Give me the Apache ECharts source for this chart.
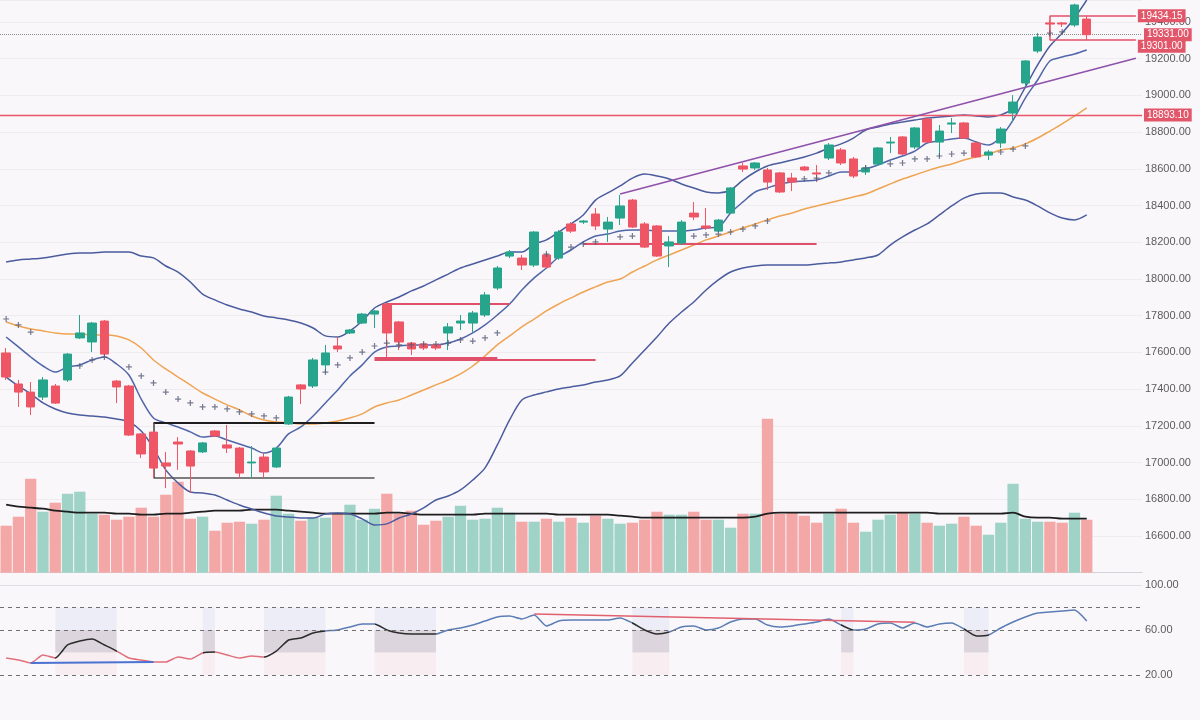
<!DOCTYPE html>
<html><head><meta charset="utf-8">
<script src="https://cdn.jsdelivr.net/npm/echarts@6/dist/echarts.min.js"></script>
<style>html,body{margin:0;padding:0;background:#faf7fa}#c{width:1200px;height:720px}</style>
</head><body><div id="c"></div>
<script>
// ---------- data ----------
const categories = Array.from({length: 93}, (_, i) => 'D' + (i + 1));

const open = [17597,17428,17384,17357,17417,17450,17679,17657,17771,17444,
17417,17156,17166,16998,17112,17063,17058,17172,17096,17079,
16998,17030,16976,17210,17423,17417,17532,17635,17706,17760,
17809,17864,17766,17651,17646,17641,17706,17760,17760,17804,
17951,18125,18114,18076,18131,18114,18300,18310,18354,18272,
18332,18430,18300,18289,18180,18196,18359,18289,18261,18359,
18616,18605,18594,18578,18550,18610,18578,18659,18703,18654,
18583,18626,18741,18774,18719,18872,18746,18844,18850,18741,
18675,18741,18904,19068,19242,19395,19395,19384,19416];
const close = [17466,17384,17303,17450,17324,17591,17706,17760,17591,17412,
17150,17047,16970,16981,17101,16981,17107,17145,17079,16943,
17003,16949,17079,17357,17401,17559,17597,17619,17722,17809,
17826,17706,17657,17619,17624,17624,17739,17771,17815,17913,
18060,18147,18076,18256,18065,18256,18261,18316,18289,18310,
18398,18283,18174,18125,18202,18310,18338,18278,18321,18496,
18599,18632,18528,18474,18528,18594,18572,18730,18632,18561,
18605,18714,18746,18681,18823,18746,18806,18850,18768,18665,
18692,18817,18964,19188,19318,19389,19389,19493,19331];
const low = [17450,17303,17259,17341,17319,17439,17673,17602,17580,17324,
17145,17025,16916,16861,16960,16834,17052,17139,17052,16916,
16916,16921,16970,17205,17319,17406,17488,17602,17700,17755,
17733,17575,17613,17586,17613,17613,17613,17722,17711,17793,
17940,18114,18049,18065,18060,18104,18251,18300,18267,18202,
18294,18278,18169,18120,18065,18185,18321,18267,18256,18354,
18583,18594,18485,18469,18479,18588,18528,18648,18621,18550,
18567,18616,18686,18675,18708,18741,18665,18795,18763,18659,
18648,18714,18855,19046,19231,19318,19373,19373,19301];
const high = [17624,17450,17439,17466,17428,17597,17804,17766,17777,17450,
17423,17161,17172,17058,17139,17068,17112,17177,17205,17085,
17090,17052,17085,17363,17428,17570,17641,17684,17728,17815,
17831,17869,17771,17657,17651,17646,17760,17804,17826,17929,
18071,18158,18131,18261,18142,18267,18310,18321,18387,18338,
18458,18436,18310,18294,18234,18321,18419,18387,18327,18501,
18632,18637,18605,18583,18578,18616,18621,18741,18714,18665,
18621,18719,18774,18779,18828,18877,18839,18877,18855,18746,
18703,18828,19002,19193,19340,19411,19400,19500,19434.15];

const volume = [235,280,470,305,350,395,405,295,290,265,
280,325,280,390,455,270,280,210,250,255,
245,265,385,295,260,275,275,295,340,265,
320,395,295,310,240,260,280,335,265,270,
325,300,255,255,270,255,275,250,285,270,
245,250,265,305,290,290,305,265,265,225,
295,295,770,295,300,285,250,295,320,250,
205,265,290,300,295,250,235,245,280,235,
190,250,445,270,255,255,250,300,265];
const volumeMA = [340,330,325,320,310,305,300,300,300,295,
295,290,290,295,295,300,305,310,310,310,
315,315,315,310,305,300,295,295,295,295,
295,300,300,295,290,290,290,290,290,295,
295,295,295,295,295,290,290,290,290,290,
285,280,275,275,275,275,275,275,275,275,
275,280,295,300,300,300,300,300,300,300,
300,300,300,300,300,300,295,295,295,295,
295,295,300,280,275,275,270,270,270];

const bbUpper = [18093,18104,18109,18115,18125,18136,18142,18142,18147,18147,
18147,18125,18115,18071,18038,17984,17918,17886,17858,17837,
17820,17799,17788,17777,17760,17733,17690,17684,17717,17771,
17842,17875,17902,17935,17962,17995,18027,18060,18082,18104,
18125,18147,18147,18191,18213,18256,18300,18349,18430,18469,
18507,18550,18572,18561,18545,18518,18496,18474,18469,18485,
18539,18583,18616,18632,18648,18665,18686,18714,18736,18768,
18812,18828,18845,18855,18866,18877,18883,18888,18894,18888,
18883,18894,18932,19046,19166,19269,19340,19422,19520];
const bbLower = [17466,17417,17374,17325,17292,17270,17259,17254,17248,17237,
17221,17172,17079,16960,16889,16840,16834,16823,16796,16769,
16747,16725,16709,16704,16698,16698,16720,16725,16720,16693,
16660,16666,16698,16720,16753,16796,16818,16851,16905,16971,
17096,17232,17341,17368,17385,17401,17412,17423,17439,17450,
17472,17543,17613,17684,17760,17820,17875,17940,17995,18038,
18060,18071,18076,18076,18076,18076,18082,18087,18093,18104,
18115,18131,18185,18229,18267,18300,18349,18398,18441,18463,
18469,18469,18447,18430,18398,18360,18332,18322,18349];
const bbMid = [17766,17744,17728,17717,17706,17701,17701,17695,17695,17690,
17668,17624,17559,17510,17466,17423,17379,17346,17314,17287,
17254,17232,17221,17216,17210,17210,17216,17227,17243,17265,
17303,17325,17341,17368,17395,17423,17450,17483,17526,17581,
17641,17690,17739,17782,17826,17864,17897,17929,17957,17984,
18000,18038,18071,18104,18131,18158,18185,18213,18234,18256,
18278,18300,18322,18343,18360,18381,18398,18414,18430,18447,
18463,18490,18518,18545,18567,18589,18610,18627,18648,18665,
18681,18703,18714,18736,18768,18806,18845,18888,18932];
const fastLine = [17684,17630,17575,17526,17493,17521,17532,17559,17575,17537,
17477,17346,17243,17216,17194,17167,17139,17145,17123,17101,
17079,17052,17079,17156,17194,17254,17325,17395,17472,17532,
17602,17630,17635,17641,17641,17641,17651,17673,17706,17750,
17804,17864,17940,18006,18060,18120,18158,18202,18234,18245,
18262,18267,18267,18262,18262,18262,18267,18278,18283,18360,
18420,18474,18496,18518,18529,18534,18539,18561,18583,18583,
18599,18621,18648,18670,18697,18741,18752,18763,18768,18746,
18730,18774,18866,18986,19084,19188,19209,19226,19248];
const sar = [17782,17750,17711,null,null,null,17526,17559,17575,null,
17521,17472,17434,17384,17346,17325,17303,17303,17292,17276,
17265,17254,17243,null,null,null,17493,17532,17570,17602,
17635,17651,17641,17641,17646,17646,17651,17668,17662,17679,
17706,null,null,null,18136,null,18174,18191,18202,null,
18229,18234,null,null,null,null,18234,18240,18245,18256,
18272,18289,18316,null,null,18545,18550,18578,null,null,
18605,null,18627,18632,18654,18654,18670,18681,18686,null,
null,18692,18708,18725,null,19340,19346,null,null];

const rsi = [35.1,33.3,30.7,37.8,35.1,46.7,50.2,52.0,46.7,41.3,
35.1,33.3,31.6,31.6,36.0,34.2,39.6,40.4,37.8,35.1,
36.9,36.0,41.3,51.1,52.9,57.3,59.1,60.0,62.7,65.3,
65.3,60.0,57.3,56.4,56.4,56.4,60.0,61.8,64.4,68.0,
71.6,72.4,69.8,73.3,63.6,68.0,68.9,68.9,68.9,68.9,
70.7,66.2,60.0,56.4,58.2,62.7,63.6,60.0,61.8,67.1,
69.8,69.8,64.4,62.7,63.6,65.3,67.1,69.8,64.4,60.0,
60.9,65.3,66.2,61.8,66.2,62.7,65.3,66.2,60.9,54.7,
55.6,61.8,67.1,71.6,75.1,76.0,76.9,77.8,68.0];

const priceTicks = {min: 16400, max: 19520, step: 200};
const rsiTicks = [20, 60, 100];
const tagLevels = {top: 19434.15, last: 19331.00, bottom: 19301.00, resist: 18893.10};
const rsiZones = [[4, 9], [16, 17], [21, 26], [30, 35], [51, 54], [68, 69], [78, 80]];

// ---------- build ----------
const GREEN = '#26a48c', RED = '#ee5565';
const candleData = open.map((o, i) => [o, close[i], low[i], high[i]]);
const volData = volume.map((v, i) => ({
  value: v,
  itemStyle: {color: close[i] >= open[i] ? '#9fd3c8' : '#f3a8a7'}
}));
const sarData = [];
sar.forEach((v, i) => { if (v !== null) sarData.push([i, v]); });
const rsiData = rsi.map((v, i) => [i, v]);

function tag(text, extra) {
  return Object.assign({
    show: true, position: 'end', formatter: text, distance: 2,
    backgroundColor: '#e2566a', color: '#fff', padding: [2, 3, 1, 3],
    fontSize: 10, fontFamily: 'Liberation Sans, Arial'
  }, extra || {});
}
const ls = (color, width, type) => ({color: color, width: width, type: type || 'solid', opacity: 1});
const c = i => categories[i];
const noLabel = {show: false};
const seg = (i0, v0, i1, v1, style) => [{coord: [c(i0), v0], lineStyle: style, label: noLabel}, {coord: [c(i1), v1]}];

const rsiAreas = [];
rsiZones.forEach(z => {
  rsiAreas.push([{xAxis: c(z[0]), yAxis: 80, itemStyle: {color: 'rgba(205,215,240,0.3)'}}, {xAxis: c(z[1]), yAxis: 60}]);
  rsiAreas.push([{xAxis: c(z[0]), yAxis: 60, itemStyle: {color: 'rgba(165,150,170,0.35)'}}, {xAxis: c(z[1]), yAxis: 40}]);
  rsiAreas.push([{xAxis: c(z[0]), yAxis: 40, itemStyle: {color: 'rgba(245,210,215,0.25)'}}, {xAxis: c(z[1]), yAxis: 20}]);
});

const chart = echarts.init(document.getElementById('c'), null, {renderer: 'canvas'});
chart.setOption({
  animation: false,
  backgroundColor: '#faf7fa',
  grid: [
    {left: -4, right: 58, top: 0, height: 572.7},
    {left: -4, right: 58, top: 585, height: 112.5}
  ],
  xAxis: [
    {type: 'category', data: categories, gridIndex: 0, boundaryGap: true,
     axisLabel: {show: false}, axisTick: {show: false},
     axisLine: {show: true, lineStyle: {color: '#d6d3d8'}}, splitLine: {show: false}},
    {type: 'category', data: categories, gridIndex: 1, boundaryGap: true,
     axisLabel: {show: false}, axisTick: {show: false}, axisLine: {show: false}, splitLine: {show: false}}
  ],
  yAxis: [
    {type: 'value', gridIndex: 0, position: 'right', scale: true,
     min: priceTicks.min, max: priceTicks.max, interval: priceTicks.step,
     axisLine: {show: false}, axisTick: {show: false},
     axisLabel: {margin: 3, color: '#5c5c5c', fontSize: 11, fontFamily: 'Liberation Sans, Arial',
       showMinLabel: false, showMaxLabel: false, formatter: v => v.toFixed(2)},
     splitLine: {lineStyle: {color: 'rgba(0,0,0,0.045)'}}},
    {type: 'value', gridIndex: 0, show: false, min: 0, max: 2863.5, splitLine: {show: false}},
    {type: 'value', gridIndex: 1, position: 'right', min: 0, max: 100, interval: 20,
     axisLine: {show: false}, axisTick: {show: false}, splitLine: {show: false},
     axisLabel: {margin: 3, color: '#5c5c5c', fontSize: 11, fontFamily: 'Liberation Sans, Arial',
       formatter: v => rsiTicks.indexOf(v) >= 0 ? v.toFixed(2) : ''}}
  ],
  visualMap: [{
    show: false, type: 'piecewise', seriesIndex: 8, dimension: 0,
    pieces: [
      {lt: 4, color: '#e0707c'}, {gte: 4, lte: 9, color: '#2b2b2b'},
      {gt: 9, lt: 16, color: '#e0707c'}, {gte: 16, lte: 17, color: '#2b2b2b'},
      {gt: 17, lt: 21, color: '#e0707c'}, {gte: 21, lte: 26, color: '#2b2b2b'},
      {gt: 26, lt: 30, color: '#5a7db5'}, {gte: 30, lte: 35, color: '#2b2b2b'},
      {gt: 35, lt: 51, color: '#5a7db5'}, {gte: 51, lte: 54, color: '#2b2b2b'},
      {gt: 54, lt: 68, color: '#5a7db5'}, {gte: 68, lte: 69, color: '#2b2b2b'},
      {gt: 69, lt: 78, color: '#5a7db5'}, {gte: 78, lte: 80, color: '#2b2b2b'},
      {gt: 80, color: '#5a7db5'}
    ]
  }],
  series: [
    {name: 'Volume', type: 'bar', xAxisIndex: 0, yAxisIndex: 1, data: volData,
     barWidth: '92%', z: 1},
    {name: 'Volume MA', type: 'line', xAxisIndex: 0, yAxisIndex: 1, data: volumeMA,
     symbol: 'none', smooth: 0.3, lineStyle: {color: '#1e1e1e', width: 1.8}, z: 2},
    {name: 'Price', type: 'candlestick', xAxisIndex: 0, yAxisIndex: 0, data: candleData,
     barWidth: 9, z: 5,
     itemStyle: {color: GREEN, color0: RED, borderColor: GREEN, borderColor0: RED, borderWidth: 1},
     markLine: {
       symbol: ['none', 'none'], silent: true, animation: false,
       lineStyle: {type: 'solid'},
       emphasis: {disabled: true},
       data: [
         [{x: 0, yAxis: tagLevels.resist, lineStyle: ls('#e8566c', 1.3), label: tag('18893.10')}, {x: 1142, yAxis: tagLevels.resist}],
         [{x: 0, yAxis: tagLevels.last, lineStyle: ls('#8a8a8a', 1, 'dotted'), label: tag('19331.00')}, {x: 1142, yAxis: tagLevels.last}],
         [{coord: [c(85), tagLevels.top], lineStyle: ls('#e0506a', 1.5), label: tag('19434.15')}, {coord: [c(92), tagLevels.top]}],
         [{coord: [c(85), tagLevels.bottom], lineStyle: ls('#e0506a', 1.5), label: tag('19301.00', {offset: [0, 6]})}, {coord: [c(92), tagLevels.bottom]}],
         seg(85, tagLevels.top, 85, tagLevels.bottom, ls('#e0506a', 1.5)),
         seg(31, 17866, 41, 17866, ls('#e0506a', 2)),
         seg(30, 17570, 40, 17570, ls('#e0506a', 2)),
         seg(30, 17559, 48, 17559, ls('#e0506a', 2)),
         seg(47, 18191, 66, 18191, ls('#e0506a', 2)),
         seg(12, 17216, 30, 17216, ls('#1e1e1e', 2)),
         seg(12, 16916, 30, 16916, ls('#555555', 1.5)),
         seg(12, 17216, 12, 16916, ls('#444444', 1.5)),
         seg(50, 18463, 92, 19203, ls('#8e52aa', 1.6))
       ]
     }},
    {name: 'BB Upper', type: 'line', xAxisIndex: 0, yAxisIndex: 0, data: bbUpper, symbol: 'none', smooth: 0.3,
     lineStyle: {color: '#4a5c9e', width: 1.5}, z: 3},
    {name: 'BB Lower', type: 'line', xAxisIndex: 0, yAxisIndex: 0, data: bbLower, symbol: 'none', smooth: 0.3,
     lineStyle: {color: '#4a5c9e', width: 1.5}, z: 3},
    {name: 'BB Basis', type: 'line', xAxisIndex: 0, yAxisIndex: 0, data: bbMid, symbol: 'none', smooth: 0.3,
     lineStyle: {color: '#eea453', width: 1.5}, z: 3},
    {name: 'Fast', type: 'line', xAxisIndex: 0, yAxisIndex: 0, data: fastLine, symbol: 'none', smooth: 0.3,
     lineStyle: {color: '#4f66a8', width: 1.5}, z: 3},
    {name: 'SAR', type: 'scatter', xAxisIndex: 0, yAxisIndex: 0, data: sarData,
     symbol: 'path://M2,0h1v2h2v1h-2v2h-1v-2h-2v-1h2z', symbolSize: 6,
     itemStyle: {color: '#545a74'}, z: 6},
    {name: 'RSI', type: 'line', xAxisIndex: 1, yAxisIndex: 2, data: rsiData, symbol: 'none', smooth: 0.2,
     lineStyle: {width: 1.5}, z: 4,
     markArea: {silent: true, data: rsiAreas},
     markLine: {
       symbol: ['none', 'none'], silent: true, label: {show: false},
       data: [
         {yAxis: 100, lineStyle: ls('#e2e0e4', 1)},
         {yAxis: 80, lineStyle: ls('#707070', 1, [4, 4])},
         {yAxis: 60, lineStyle: ls('#707070', 1, [4, 4])},
         {yAxis: 20, lineStyle: ls('#707070', 1, [4, 4])},
         [{coord: [c(2), 30.7], lineStyle: ls('#4a72d0', 2)}, {coord: [c(12), 31.6]}],
         [{coord: [c(43), 74.2], lineStyle: ls('#e0606e', 1.5)}, {coord: [c(74), 66.9]}]
       ]
     }}
  ]
});
</script>
</body></html>
